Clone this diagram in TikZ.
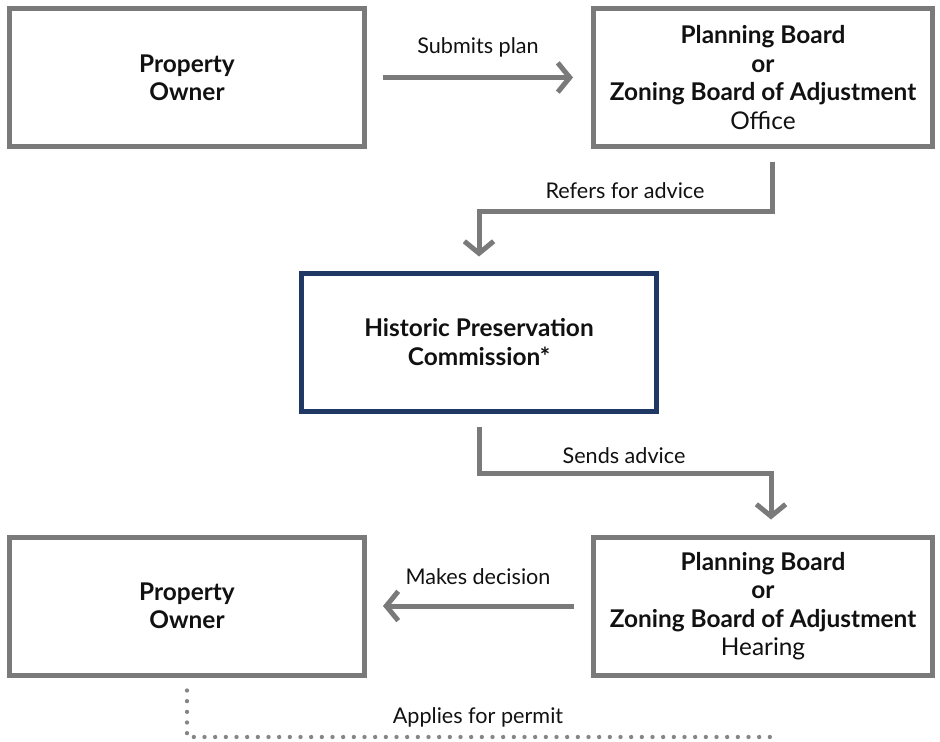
\documentclass[tikz,border=0pt]{standalone}
\usepackage{fontspec}
\setmainfont{Lato}
\usetikzlibrary{arrows.meta}
\definecolor{boxgray}{HTML}{7A7A7A}
\definecolor{navyblue}{HTML}{1F3864}
\definecolor{dotgray}{HTML}{858585}
\definecolor{inkblack}{HTML}{111111}
\begin{document}
\begin{tikzpicture}[x=0.75pt,y=-0.75pt,
  box/.style={draw=boxgray, line width=3.75pt, fill=white, minimum width=266.25pt,
    minimum height=103.5pt, align=center, inner sep=0pt, text=inkblack,
    font=\fontsize{18.3}{21.3}\selectfont\bfseries},
  widebox/.style={box, minimum width=254.25pt},
  hpcbox/.style={box, draw=navyblue},
  arr/.style={draw=boxgray, line width=3.75pt,
    -{Straight Barb[length=9pt,width=22pt]}},
  dotline/.style={draw=dotgray, line width=3.2pt, line cap=round,
    dash pattern=on 0pt off 8pt},
  lab/.style={font=\fontsize{16.2}{19}\selectfont, text=inkblack, inner sep=0pt}
]
\useasboundingbox (0,0) rectangle (940,742);

\node[box] (po1) at (187,77.5) {Property\\Owner};
\node[widebox] (pb1) at (763,77.5) {Planning Board\\or\\Zoning Board of Adjustment\\{\mdseries Office}};
\node[hpcbox] (hpc) at (479,342) {Historic Preservation\\Commission*};
\node[box] (po2) at (187,606) {Property\\Owner};
\node[widebox] (pb2) at (763,606) {Planning Board\\or\\Zoning Board of Adjustment\\{\mdseries Hearing}};

\draw[arr] ([xshift=12pt]po1.east) -- ([xshift=-13.5pt]pb1.west);
\node[lab] (l1) at (478,47) {Submits plan};

\draw[arr] ([xshift=6.75pt,yshift=-9.75pt]pb1.south) -- ++(0,49) -| ([yshift=10.5pt]hpc.north);
\node[lab] (l2) at (625,191) {Refers for advice};

\draw[arr] ([yshift=-9.75pt]hpc.south) -- ++(0,47) -| ([xshift=6pt,yshift=11.25pt]pb2.north);
\node[lab] (l3) at (624,456) {Sends advice};

\draw[arr] ([xshift=-12.75pt]pb2.west) -- ([xshift=12pt]po2.east);
\node[lab] (l4) at (478,577) {Makes decision};

\coordinate (pend) at (770,737);
\draw[dotline] ([yshift=-9.75pt]po2.south) |- (pend);
\node[lab] (l5) at (478,717) {Applies for permit};
\end{tikzpicture}
\end{document}
